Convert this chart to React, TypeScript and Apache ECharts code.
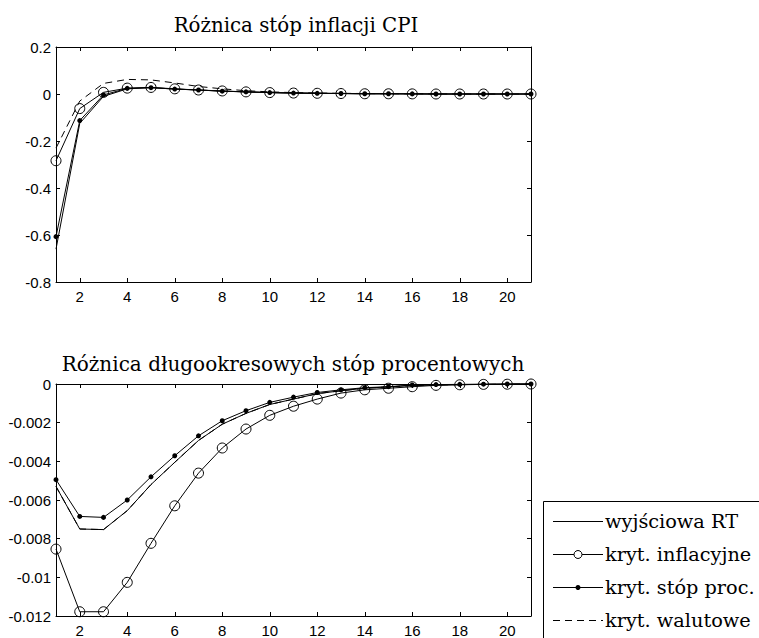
import React, { useEffect, useRef } from "react";
import * as echarts from "echarts";

const periods = ["1","2","3","4","5","6","7","8","9","10","11","12","13","14","15","16","17","18","19","20","21"];

const seriesNames = ["wyjściowa RT", "kryt. inflacyjne", "kryt. stóp proc.", "kryt. walutowe"];

// Różnica stóp inflacji CPI
const cpiBase = [-0.66, -0.125, -0.01, 0.022, 0.027, 0.021, 0.017, 0.012, 0.009, 0.006, 0.004, 0.003, 0.002, 0.001, 0.001, 0.0005, 0, 0, 0, 0, 0];
const cpiInfl = [-0.284, -0.062, 0.007, 0.025, 0.028, 0.022, 0.017, 0.013, 0.009, 0.006, 0.004, 0.003, 0.002, 0.001, 0.001, 0.0005, 0, 0, 0, 0, 0];
const cpiRate = [-0.607, -0.113, -0.004, 0.024, 0.027, 0.021, 0.017, 0.012, 0.009, 0.006, 0.004, 0.003, 0.002, 0.001, 0.001, 0.0005, 0, 0, 0, 0, 0];
const cpiFx = [-0.23, -0.03, 0.045, 0.062, 0.06, 0.047, 0.032, 0.022, 0.014, 0.009, 0.006, 0.004, 0.003, 0.002, 0.001, 0.001, 0.0005, 0, 0, 0, 0];

// Różnica długookresowych stóp procentowych
const ltBase = [-0.0053, -0.0075, -0.00753, -0.00655, -0.0052, -0.00405, -0.00292, -0.00208, -0.00152, -0.00106, -0.00078, -0.0005, -0.00035, -0.00022, -0.00015, -0.00008, -0.00005, -0.00003, -0.00002, -0.00001, 0];
const ltInfl = [-0.00854, -0.01178, -0.01178, -0.01026, -0.00824, -0.0063, -0.00461, -0.00331, -0.00233, -0.00162, -0.00115, -0.00078, -0.00047, -0.0003, -0.00022, -0.00014, -0.00007, -0.00004, -0.00002, -0.00001, 0];
const ltRate = [-0.00495, -0.00685, -0.0069, -0.006, -0.0048, -0.00371, -0.00268, -0.0019, -0.00138, -0.00095, -0.00068, -0.00044, -0.0003, -0.00019, -0.00014, -0.00005, -0.00003, -0.00002, -0.00001, 0, 0];
const ltFx = [-0.0053, -0.0075, -0.00753, -0.00655, -0.0052, -0.00405, -0.00292, -0.00208, -0.00152, -0.00106, -0.00078, -0.0005, -0.00035, -0.00022, -0.00015, -0.00008, -0.00005, -0.00003, -0.00002, -0.00001, 0];

const titles = ["Różnica stóp inflacji CPI", "Różnica długookresowych stóp procentowych"];

const SANS = "'Liberation Sans', Arial, Helvetica, sans-serif";
const SERIF = "'DejaVu Serif', 'Liberation Serif', serif";

export default function App() {
  const ref = useRef<HTMLDivElement>(null);

  useEffect(() => {
    if (!ref.current) return;
    const chart = echarts.init(ref.current, null, { renderer: "svg" });

    const evenIdx = (idx: number) => (idx + 1) % 2 === 0;

    const xAxisFor = (gridIndex: number, position: "bottom" | "top") => ({
      type: "category",
      data: periods,
      gridIndex,
      position,
      boundaryGap: false,
      axisLine: { show: true, onZero: false, lineStyle: { color: "#000", width: 1 } },
      axisTick: { show: true, inside: true, length: 4, interval: evenIdx, lineStyle: { color: "#000" } },
      axisLabel: {
        show: position === "bottom",
        interval: evenIdx,
        color: "#000",
        fontFamily: SANS,
        fontSize: 15,
        margin: 7,
      },
      splitLine: { show: false },
    });

    const yAxisFor = (gridIndex: number, position: "left" | "right", min: number, max: number, interval: number) => ({
      type: "value",
      gridIndex,
      position,
      min,
      max,
      interval,
      axisLine: { show: true, onZero: false, lineStyle: { color: "#000", width: 1 } },
      axisTick: { show: true, inside: true, length: 4, lineStyle: { color: "#000" } },
      axisLabel: {
        show: position === "left",
        color: "#000",
        fontFamily: SANS,
        fontSize: 15,
        margin: 5,
      },
      splitLine: { show: false },
    });

    const mk = (
      name: string,
      data: number[],
      axisIdx: number,
      kind: "plain" | "circle" | "dot" | "dash"
    ) => {
      const base: any = {
        name,
        type: "line",
        data,
        xAxisIndex: axisIdx,
        yAxisIndex: axisIdx,
        clip: false,
        lineStyle: { color: "#000", width: 1, type: kind === "dash" ? [7, 5] : "solid" },
        itemStyle: { color: "#000" },
        emphasis: { disabled: true },
      };
      if (kind === "plain" || kind === "dash") {
        base.symbol = "none";
        base.showSymbol = false;
      } else if (kind === "circle") {
        base.symbol = "circle";
        base.symbolSize = 10;
        base.itemStyle = { color: "transparent", borderColor: "#000", borderWidth: 1 };
      } else {
        base.symbol = "circle";
        base.symbolSize = 5;
        base.itemStyle = { color: "#000", borderColor: "#000", borderWidth: 0 };
      }
      return base;
    };

    // legend drawn as graphic
    const rowY = [521, 554, 587, 620];
    const lx1 = 553;
    const lx2 = 603;
    const lmid = (lx1 + lx2) / 2;
    const legendEls: any[] = [
      {
        type: "rect",
        shape: { x: 543.5, y: 501.5, width: 300, height: 200 },
        style: { fill: "#fff", stroke: "#000", lineWidth: 1 },
        z: 1,
      },
    ];
    seriesNames.forEach((name, i) => {
      const y = rowY[i] + 0.5;
      legendEls.push({
        type: "line",
        shape: { x1: lx1, y1: y, x2: lx2, y2: y },
        style: { stroke: "#000", lineWidth: 1, lineDash: i === 3 ? [7, 5] : null },
        z: 2,
      });
      if (i === 1) {
        legendEls.push({
          type: "circle",
          shape: { cx: lmid, cy: y, r: 4 },
          style: { fill: "#fff", stroke: "#000", lineWidth: 1 },
          z: 3,
        });
      } else if (i === 2) {
        legendEls.push({
          type: "circle",
          shape: { cx: lmid, cy: y, r: 2.5 },
          style: { fill: "#000", stroke: null },
          z: 3,
        });
      }
      legendEls.push({
        type: "text",
        x: 605,
        y: rowY[i],
        style: {
          text: name,
          fill: "#000",
          font: `19.3px ${SERIF}`,
          textVerticalAlign: "middle",
          verticalAlign: "middle",
        },
        z: 3,
      });
    });

    chart.setOption({
      animation: false,
      backgroundColor: "#fff",
      title: [
        {
          text: titles[0],
          left: 291,
          textAlign: "center",
          top: 10,
          textStyle: { fontFamily: SERIF, fontSize: 19.8, fontWeight: "normal", color: "#000" },
        },
        {
          text: titles[1],
          left: 288,
          textAlign: "center",
          top: 349,
          textStyle: { fontFamily: SERIF, fontSize: 20, fontWeight: "normal", color: "#000" },
        },
      ],
      grid: [
        { left: 56, top: 47, width: 475, height: 235, containLabel: false },
        { left: 56, top: 384, width: 475, height: 237, containLabel: false },
      ],
      xAxis: [
        xAxisFor(0, "bottom"),
        xAxisFor(0, "top"),
        xAxisFor(1, "bottom"),
        xAxisFor(1, "top"),
      ],
      yAxis: [
        yAxisFor(0, "left", -0.8, 0.2, 0.2),
        yAxisFor(0, "right", -0.8, 0.2, 0.2),
        yAxisFor(1, "left", -0.012, 0, 0.002),
        yAxisFor(1, "right", -0.012, 0, 0.002),
      ],
      graphic: legendEls,
      series: [
        mk(seriesNames[0], cpiBase, 0, "plain"),
        mk(seriesNames[1], cpiInfl, 0, "circle"),
        mk(seriesNames[2], cpiRate, 0, "dot"),
        mk(seriesNames[3], cpiFx, 0, "dash"),
        mk(seriesNames[0], ltBase, 2, "plain"),
        mk(seriesNames[1], ltInfl, 2, "circle"),
        mk(seriesNames[2], ltRate, 2, "dot"),
        mk(seriesNames[3], ltFx, 2, "dash"),
      ],
    });

    return () => chart.dispose();
  }, []);

  return (
    <div
      ref={ref}
      style={{ position: "fixed", left: 0, top: 0, width: 759, height: 638, background: "#fff" }}
    />
  );
}
